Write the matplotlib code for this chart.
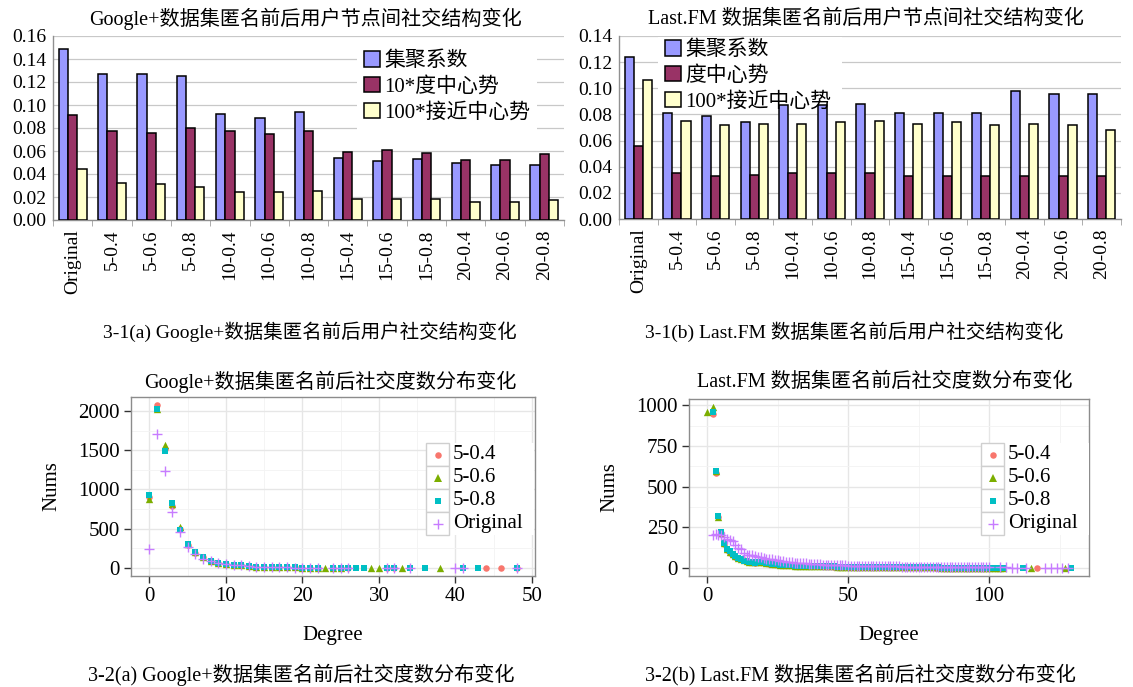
import matplotlib
matplotlib.use('Agg')
import matplotlib.pyplot as plt
from matplotlib.patches import Rectangle, Patch
from matplotlib.lines import Line2D
import numpy as np

plt.rcParams['font.family'] = ['Liberation Serif', 'Noto Sans CJK SC']
plt.rcParams['axes.unicode_minus'] = False

# ---------------- data: bar charts ----------------
categories = ['Original', '5-0.4', '5-0.6', '5-0.8', '10-0.4', '10-0.6', '10-0.8',
              '15-0.4', '15-0.6', '15-0.8', '20-0.4', '20-0.6', '20-0.8']
gp_names = ['集聚系数', '10*度中心势', '100*接近中心势']
lfm_names = ['集聚系数', '度中心势', '100*接近中心势']

gp_cluster = [0.149, 0.127, 0.127, 0.125, 0.092, 0.089, 0.094, 0.054, 0.051, 0.053, 0.050, 0.048, 0.048]
gp_degree = [0.091, 0.077, 0.076, 0.080, 0.077, 0.075, 0.077, 0.059, 0.061, 0.058, 0.052, 0.052, 0.057]
gp_close = [0.044, 0.032, 0.031, 0.029, 0.024, 0.024, 0.025, 0.018, 0.018, 0.018, 0.016, 0.016, 0.017]

lfm_cluster = [0.124, 0.081, 0.079, 0.074, 0.087, 0.087, 0.088, 0.081, 0.081, 0.081, 0.098, 0.096, 0.096]
lfm_degree = [0.056, 0.035, 0.033, 0.034, 0.035, 0.035, 0.035, 0.033, 0.033, 0.033, 0.033, 0.033, 0.033]
lfm_close = [0.106, 0.075, 0.072, 0.073, 0.073, 0.074, 0.075, 0.073, 0.074, 0.072, 0.073, 0.072, 0.068]

gp_yticks = [0.00, 0.02, 0.04, 0.06, 0.08, 0.10, 0.12, 0.14, 0.16]
lfm_yticks = [0.00, 0.02, 0.04, 0.06, 0.08, 0.10, 0.12, 0.14]

# ---------------- data: degree distributions ----------------
series_labels = ['5-0.4', '5-0.6', '5-0.8', 'Original']

gp_deg_04 = list(range(0, 23)) + [24, 25, 26, 31, 32, 44, 46, 48]
gp_val_04 = [898, 2076, 1513, 784, 500, 295, 195, 135, 90, 62, 52, 40, 32, 24, 13, 11, 9, 8, 6, 5,
             4, 3, 3, 2, 2, 2, 1, 1, 1, 1, 1]
gp_deg_06 = list(range(0, 23)) + [23, 24, 25, 29, 30, 33, 38]
gp_val_06 = [877, 2030, 1568, 820, 517, 300, 200, 138, 93, 64, 55, 42, 34, 25, 13, 11, 9, 8, 6, 5,
             4, 3, 3, 2, 2, 2, 1, 1, 1, 1]
gp_deg_08 = list(range(0, 23)) + [24, 25, 26, 27, 28, 31, 32, 34, 36, 41, 43, 48]
gp_val_08 = [932, 2025, 1492, 826, 487, 305, 203, 140, 93, 64, 55, 42, 34, 25, 13, 11, 9, 8, 6, 5,
             4, 3, 3, 2, 2, 2, 1, 1, 1, 1, 1, 1, 1, 1, 1]
gp_deg_orig = list(range(0, 23)) + [24, 25, 26, 31, 32, 34, 40, 41, 48]
gp_val_orig = [240, 1703, 1237, 708, 458, 263, 178, 119, 85, 58, 50, 38, 30, 22, 12, 10, 8, 7, 5, 4,
               3, 3, 2, 2, 2, 1, 1, 1, 1, 1, 1, 1]

lfm_deg_04 = list(range(2, 106)) + [117]
lfm_val_04 = [945, 585, 312, 215, 148, 112, 95, 82, 70, 62, 54, 46, 40, 36,
              34, 33, 35, 37, 36, 32, 27, 24, 23, 21,
              20, 18, 18, 16, 16, 15, 14, 14, 13, 12,
              12, 11, 11, 10, 10, 10, 9, 9, 9, 8,
              8, 8, 8, 7, 7, 7, 7, 6, 6, 6,
              6, 6, 5, 5, 5, 5, 5, 5, 4, 4,
              4, 4, 4, 4, 4, 3, 3, 3, 3, 3,
              3, 3, 3, 3, 3, 2, 2, 2, 2, 2,
              2, 2, 2, 2, 2, 2, 2, 2, 2, 1,
              2, 1, 1, 2, 1, 1, 1, 1, 1, 1,
              1]
lfm_deg_06 = [0] + list(range(2, 106)) + [115, 127]
lfm_val_06 = [960,
              990, 595, 316, 218, 152, 116, 100, 84, 72, 60, 56, 48, 42, 38,
              35, 34, 36, 38, 37, 33, 28, 25, 24, 22,
              20, 19, 18, 17, 16, 15, 15, 14, 13, 13,
              12, 12, 11, 11, 10, 10, 10, 9, 9, 9,
              8, 8, 8, 8, 7, 7, 7, 7, 6, 6,
              6, 6, 6, 5, 5, 5, 5, 5, 5, 4,
              4, 4, 4, 4, 4, 4, 4, 3, 3, 3,
              3, 3, 3, 3, 3, 3, 3, 2, 2, 2,
              2, 2, 2, 2, 2, 2, 2, 2, 2, 2,
              1, 2, 1, 1, 2, 1, 1, 1, 1, 1,
              1, 1]
lfm_deg_08 = list(range(2, 106)) + [112, 129]
lfm_val_08 = [960, 595, 317, 220, 152, 118, 102, 85, 71, 61, 55, 45, 41, 35,
              34, 33, 36, 38, 37, 33, 28, 25, 24, 22,
              20, 19, 18, 17, 16, 15, 15, 14, 13, 13,
              12, 12, 11, 11, 10, 10, 10, 9, 9, 9,
              8, 8, 8, 8, 7, 7, 7, 7, 6, 6,
              6, 6, 6, 5, 5, 5, 5, 5, 5, 4,
              4, 4, 4, 4, 4, 4, 4, 3, 3, 3,
              3, 3, 3, 3, 3, 3, 3, 2, 2, 2,
              2, 2, 2, 2, 2, 2, 2, 2, 2, 2,
              1, 2, 1, 1, 2, 1, 1, 1, 1, 1,
              1, 1]
lfm_deg_orig = list(range(2, 101)) + [104, 106, 108, 110, 113, 120, 122, 124, 126, 128]
lfm_val_orig = [205, 210, 205, 200, 190, 180, 172, 165, 140, 125, 118, 95, 82, 80,
                78, 74, 70, 66, 62, 58, 56, 57, 50, 46,
                43, 41, 39, 37, 35, 33, 32, 30, 29, 28,
                26, 25, 27, 24, 22, 21, 20, 20, 19, 18,
                18, 17, 16, 16, 15, 15, 14, 14, 13, 13,
                12, 12, 12, 11, 11, 11, 10, 10, 10, 9,
                9, 9, 9, 8, 8, 8, 8, 7, 7, 7,
                7, 7, 6, 6, 6, 6, 6, 5, 5, 5,
                5, 5, 5, 5, 4, 4, 4, 4, 4, 4,
                4, 3, 3, 3, 3,
                3, 3, 2, 2, 2, 2, 2, 2, 2, 2]

# ---------------- styles ----------------
bar_colors = ['#9999FF', '#993366', '#FFFFCC']
pt_colors = ['#F8766D', '#7CAE00', '#00BFC4', '#C77CFF']
pt_markers = ['o', '^', 's', '+']
pt_sizes = [22, 28, 22, 60]

W, H = 1133, 687
fig = plt.figure(figsize=(W / 100, H / 100), dpi=100)


def ax_px(l, t, r, b):
    return fig.add_axes([l / W, 1 - b / H, (r - l) / W, (b - t) / H])


def fx(x):
    return x / W


def fy(y):
    return 1 - y / H


def bar_chart(ax, vals_list, ymax, yticks):
    x = np.arange(len(categories))
    w = 0.235
    for i, (vals, c) in enumerate(zip(vals_list, bar_colors)):
        ax.bar(x + (i - 1) * w, vals, w, color=c, edgecolor='black', linewidth=1.1, zorder=3)
    ax.set_xlim(-0.5, len(categories) - 0.5)
    ax.set_ylim(0, ymax)
    ax.set_yticks(yticks)
    ax.set_yticklabels(['%.2f' % t for t in yticks])
    ax.set_xticks(x)
    ax.set_xticklabels(categories, rotation=90)
    ax.set_xticks(np.arange(-0.5, len(categories)), minor=True)
    ax.tick_params(axis='x', which='major', length=0, pad=7, labelsize=14)
    ax.tick_params(axis='x', which='minor', length=4, color='#A0A0A0')
    ax.tick_params(axis='y', length=0, pad=5, labelsize=14)
    ax.grid(axis='y', color='#C8C8C8', lw=0.9, zorder=0)
    ax.set_axisbelow(True)
    for s in ['top', 'right']:
        ax.spines[s].set_visible(False)
    for s in ['left', 'bottom']:
        ax.spines[s].set_color('#909090')
        ax.spines[s].set_linewidth(1.0)


ax1 = ax_px(53, 36, 564, 220)
bar_chart(ax1, [gp_cluster, gp_degree, gp_close], 0.16, gp_yticks)
ax2 = ax_px(619, 36, 1121, 219)
bar_chart(ax2, [lfm_cluster, lfm_degree, lfm_close], 0.14, lfm_yticks)


def bar_legend(names, x, y, box=None):
    if box is not None:
        l, t, r, b = box
        fig.add_artist(Rectangle((fx(l), fy(b)), (r - l) / W, (b - t) / H, transform=fig.transFigure,
                                 facecolor='white', edgecolor='none', zorder=2))
    handles = [Patch(facecolor=c, edgecolor='black', linewidth=1.1) for c in bar_colors]
    leg = fig.legend(handles, names, loc='upper left', bbox_to_anchor=(fx(x), fy(y)),
                     fontsize=15, frameon=(box is None), fancybox=False, framealpha=1,
                     facecolor='white', edgecolor='none', handlelength=0.75,
                     handleheight=0.75, handletextpad=0.2, labelspacing=0.28,
                     borderpad=0.35, borderaxespad=0)
    leg.set_zorder(6)
    return leg


bar_legend(gp_names, 357, 44)
bar_legend(lfm_names, 658, 33, box=(658, 37, 842, 100))


def scatter_panel(ax, series, xlim, ylim, xmaj, xmin, ymaj, ymin):
    for (deg, val), c, m, s in zip(series, pt_colors, pt_markers, pt_sizes):
        if m == '+':
            ax.scatter(deg, val, c=c, marker=m, s=s, linewidths=1.0, zorder=3)
        else:
            ax.scatter(deg, val, c=c, marker=m, s=s, linewidths=0, zorder=3)
    ax.set_xlim(*xlim)
    ax.set_ylim(*ylim)
    ax.set_xticks(xmaj)
    ax.set_xticks(xmin, minor=True)
    ax.set_yticks(ymaj)
    ax.set_yticks(ymin, minor=True)
    ax.grid(which='major', color='#E6E6E6', lw=1.0)
    ax.grid(which='minor', color='#F3F3F3', lw=0.6)
    ax.set_axisbelow(True)
    for s in ax.spines.values():
        s.set_color('#8C8C8C')
        s.set_linewidth(1.0)
    ax.tick_params(which='major', length=5, width=1.0, color='#333333', labelsize=15, pad=3)
    ax.tick_params(which='minor', length=0)
    ax.set_xlabel('Degree', fontsize=15, labelpad=14)
    ax.set_ylabel('Nums', fontsize=15, labelpad=12)


ax3 = ax_px(131, 397, 535, 576)
scatter_panel(ax3, [(gp_deg_04, gp_val_04), (gp_deg_06, gp_val_06),
                    (gp_deg_08, gp_val_08), (gp_deg_orig, gp_val_orig)],
              (-2.4, 50.4), (-104, 2180), [0, 10, 20, 30, 40, 50], [5, 15, 25, 35, 45],
              [0, 500, 1000, 1500, 2000], [250, 750, 1250, 1750])

ax4 = ax_px(689, 399, 1089, 576)
scatter_panel(ax4, [(lfm_deg_04, lfm_val_04), (lfm_deg_06, lfm_val_06),
                    (lfm_deg_08, lfm_val_08), (lfm_deg_orig, lfm_val_orig)],
              (-6.45, 135.45), (-49.5, 1039.5), [0, 50, 100], [25, 75, 125],
              [0, 250, 500, 750, 1000], [125, 375, 625, 875])


def gg_legend(x0, y0):
    k = 23
    fig.add_artist(Rectangle((fx(x0), fy(y0 + 4 * k)), fx(k + 85), (4 * k) / H,
                             transform=fig.transFigure, facecolor='white', edgecolor='none', zorder=4))
    for i, (lab, c, m, s) in enumerate(zip(series_labels, pt_colors, pt_markers, pt_sizes)):
        top = y0 + i * k
        fig.add_artist(Rectangle((fx(x0), fy(top + k)), k / W, k / H, transform=fig.transFigure,
                                 facecolor='white', edgecolor='#CFCFCF', linewidth=1.0, zorder=5))
        ms = np.sqrt(s)
        if m == '+':
            fig.add_artist(Line2D([fx(x0 + k / 2)], [fy(top + k / 2)], marker=m, markersize=ms,
                                  markeredgewidth=1.0, color=c, linestyle='none',
                                  transform=fig.transFigure, zorder=6))
        else:
            fig.add_artist(Line2D([fx(x0 + k / 2)], [fy(top + k / 2)], marker=m, markersize=ms,
                                  markeredgewidth=0, color=c, linestyle='none',
                                  transform=fig.transFigure, zorder=6))
        fig.text(fx(x0 + k + 4), fy(top + k / 2), lab, fontsize=15, ha='left', va='center', zorder=6)


gg_legend(426, 443)
gg_legend(981, 443)

# ---------------- titles and captions ----------------
fig.text(fx(305), fy(19), 'Google+数据集匿名前后用户节点间社交结构变化', fontsize=14.5, ha='center', va='center')
fig.text(fx(866), fy(19), 'Last.FM 数据集匿名前后用户节点间社交结构变化', fontsize=14.5, ha='center', va='center')
fig.text(fx(310), fy(332), '3-1(a) Google+数据集匿名前后用户社交结构变化', fontsize=14, ha='center', va='center')
fig.text(fx(854), fy(332), '3-1(b) Last.FM 数据集匿名前后用户社交结构变化', fontsize=14, ha='center', va='center')
fig.text(fx(330), fy(382), 'Google+数据集匿名前后社交度数分布变化', fontsize=14.5, ha='center', va='center')
fig.text(fx(885), fy(382), 'Last.FM 数据集匿名前后社交度数分布变化', fontsize=14.5, ha='center', va='center')
fig.text(fx(301), fy(675), '3-2(a) Google+数据集匿名前后社交度数分布变化', fontsize=14.5, ha='center', va='center')
fig.text(fx(860), fy(675), '3-2(b) Last.FM 数据集匿名前后社交度数分布变化', fontsize=14.5, ha='center', va='center')

fig.savefig('out.png', dpi=100)
